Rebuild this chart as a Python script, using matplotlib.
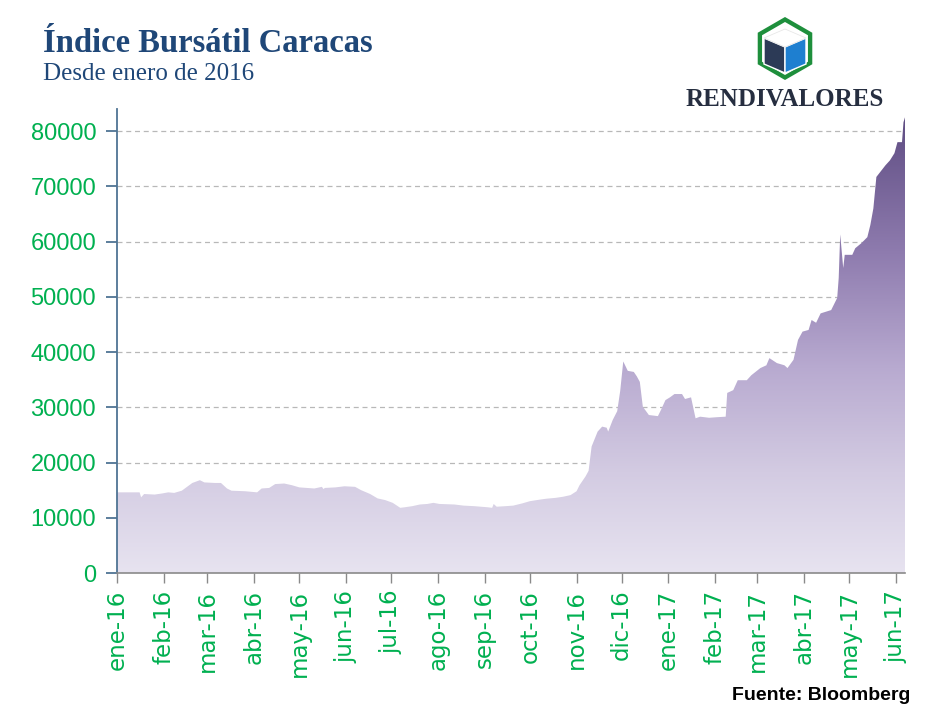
import numpy as np
import pandas as pd
import matplotlib
matplotlib.use("Agg")
import matplotlib.pyplot as plt
import matplotlib.dates as mdates
from matplotlib.colors import LinearSegmentedColormap
from matplotlib.patches import Polygon, RegularPolygon
from matplotlib.ticker import FixedLocator, FixedFormatter

# ---------------- data ----------------
dates = [
    "2016-01-01", "2016-01-16", "2016-01-17", "2016-01-19", "2016-01-26", "2016-01-31",
    "2016-02-04", "2016-02-08", "2016-02-13", "2016-02-17", "2016-02-20", "2016-02-25",
    "2016-02-28", "2016-03-06", "2016-03-10", "2016-03-14", "2016-03-17", "2016-03-26",
    "2016-04-03", "2016-04-06", "2016-04-11", "2016-04-15", "2016-04-21", "2016-04-26",
    "2016-05-01", "2016-05-11", "2016-05-16", "2016-05-17", "2016-05-18", "2016-05-25",
    "2016-05-31", "2016-06-07", "2016-06-11", "2016-06-17", "2016-06-22", "2016-06-27",
    "2016-07-02", "2016-07-07", "2016-07-10", "2016-07-15", "2016-07-20", "2016-07-25",
    "2016-07-29", "2016-08-02", "2016-08-12", "2016-08-18", "2016-08-25", "2016-09-03",
    "2016-09-06", "2016-09-07", "2016-09-09", "2016-09-15", "2016-09-20", "2016-09-26",
    "2016-10-01", "2016-10-08", "2016-10-12", "2016-10-18", "2016-10-23", "2016-10-28",
    "2016-11-01", "2016-11-03", "2016-11-07", "2016-11-09", "2016-11-11", "2016-11-15",
    "2016-11-18", "2016-11-21", "2016-11-22", "2016-11-25", "2016-11-28", "2016-11-30",
    "2016-12-02", "2016-12-05", "2016-12-09", "2016-12-11", "2016-12-13", "2016-12-15",
    "2016-12-19", "2016-12-25", "2016-12-27", "2016-12-30",
    "2017-01-02", "2017-01-05", "2017-01-10", "2017-01-12", "2017-01-16", "2017-01-19",
    "2017-01-22", "2017-01-28", "2017-02-02", "2017-02-08", "2017-02-09", "2017-02-13",
    "2017-02-16", "2017-02-22", "2017-02-25", "2017-03-03", "2017-03-07", "2017-03-09",
    "2017-03-14", "2017-03-19", "2017-03-21", "2017-03-25", "2017-03-28", "2017-03-31",
    "2017-04-04", "2017-04-06", "2017-04-09", "2017-04-12", "2017-04-19", "2017-04-23",
    "2017-04-24", "2017-04-25", "2017-04-27", "2017-04-28", "2017-05-03", "2017-05-05",
    "2017-05-09", "2017-05-13", "2017-05-15", "2017-05-17", "2017-05-19", "2017-05-21",
    "2017-05-25", "2017-05-28", "2017-05-31", "2017-06-02", "2017-06-05", "2017-06-06",
    "2017-06-07",
]
values = [
    14600, 14600, 13700, 14300, 14200, 14400,
    14600, 14500, 14900, 15700, 16300, 16800,
    16400, 16300, 16300, 15300, 14900, 14800,
    14600, 15300, 15400, 16100, 16200, 15900,
    15500, 15300, 15600, 15200, 15400, 15500,
    15700, 15600, 15000, 14300, 13500, 13200,
    12700, 11800, 11900, 12100, 12400, 12500,
    12700, 12500, 12400, 12200, 12100, 11900,
    11800, 12500, 12000, 12100, 12200, 12600,
    13000, 13300, 13450, 13600, 13800, 14100,
    14800, 15900, 17500, 18500, 22900, 25600,
    26500, 26300, 25600, 27700, 29300, 33000,
    38300, 36600, 36400, 35600, 34600, 30100,
    28600, 28400, 29500, 31300,
    31800, 32400, 32400, 31500, 31800, 28000,
    28300, 28100, 28200, 28300, 32600, 33100,
    34900, 34900, 35800, 37100, 37600, 38900,
    38000, 37600, 37100, 38600, 42200, 43700,
    44000, 45800, 45300, 47000, 47600, 49800,
    53400, 61300, 55200, 57600, 57600, 58800,
    59700, 60800, 63000, 66000, 71700, 72400,
    73800, 74700, 76000, 78000, 78000, 81600,
    82500,
]
month_starts = ["2016-01-01", "2016-02-01", "2016-03-01", "2016-04-01", "2016-05-01",
                "2016-06-01", "2016-07-01", "2016-08-01", "2016-09-01", "2016-10-01",
                "2016-11-01", "2016-12-01", "2017-01-01", "2017-02-01", "2017-03-01",
                "2017-04-01", "2017-05-01", "2017-06-01"]
month_labels = ["ene-16", "feb-16", "mar-16", "abr-16", "may-16", "jun-16", "jul-16",
                "ago-16", "sep-16", "oct-16", "nov-16", "dic-16", "ene-17", "feb-17",
                "mar-17", "abr-17", "may-17", "jun-17"]
y_ticks = [0, 10000, 20000, 30000, 40000, 50000, 60000, 70000, 80000]

x = pd.to_datetime(dates)
y = np.array(values, dtype=float)
tick_dates = pd.to_datetime(month_starts)

# ---------------- figure ----------------
fig = plt.figure(figsize=(9.28, 7.13), dpi=100)
ax = fig.add_axes([117 / 928, (713 - 573) / 713, (905 - 117) / 928, (573 - 109) / 713])

YMAX = 84000
xmin, xmax = x[0], x[-1]

# gradient fill clipped to area
poly = ax.fill_between(x, 0, y, color="none", lw=0, zorder=2)
cmap = LinearSegmentedColormap.from_list(
    "grad", [(0.0, "#e7e3f0"), (0.22, "#d3cbe2"), (0.45, "#b8aad0"),
             (0.7, "#8f7caf"), (1.0, "#5f4d83")])
grad = np.linspace(0, 1, 512).reshape(-1, 1)
img = ax.imshow(grad, cmap=cmap, origin="lower", aspect="auto",
                extent=[mdates.date2num(xmin), mdates.date2num(xmax), 0, 82500],
                zorder=2, interpolation="bilinear")
img.set_clip_path(poly.get_paths()[0], transform=ax.transData)
ax.set_xlim(xmin, xmax)
ax.set_ylim(0, YMAX)

# grid
ax.set_axisbelow(True)
ax.yaxis.grid(True, linestyle=(0, (4, 3)), color="#b8b8b8", linewidth=0.9, zorder=0.5)
ax.xaxis.grid(False)

# spines
for s in ["top", "right"]:
    ax.spines[s].set_visible(False)
ax.spines["left"].set_color("#4f7494")
ax.spines["left"].set_linewidth(1.3)
ax.spines["bottom"].set_color("#8a8a8a")
ax.spines["bottom"].set_linewidth(1.2)

green = "#00b050"
ax.set_yticks(y_ticks)
ax.set_yticklabels([str(v) for v in y_ticks])
ax.tick_params(axis="y", direction="out", length=8, width=1.3, color="#4f7494",
               labelcolor=green, labelsize=17, pad=7)
for lab in ax.get_yticklabels():
    lab.set_fontfamily("Liberation Sans")

ax.xaxis.set_major_locator(FixedLocator(mdates.date2num(tick_dates)))
ax.xaxis.set_major_formatter(FixedFormatter(month_labels))
ax.tick_params(axis="x", direction="out", length=7, width=1.0, color="#8a8a8a",
               labelcolor=green, labelsize=16.5, pad=5, labelrotation=90)
for lab in ax.get_xticklabels():
    lab.set_fontfamily("DejaVu Sans")

# ---------------- texts ----------------
fig.text(43 / 928, 1 - 52 / 713, "Índice Bursátil Caracas", fontsize=23.5,
         fontweight="bold", family="Liberation Serif", color="#1f4778",
         ha="left", va="baseline")
fig.text(43 / 928, 1 - 80 / 713, "Desde enero de 2016", fontsize=18,
         family="Liberation Serif", color="#1f4778", ha="left", va="baseline")
fig.text(910 / 928, 1 - 700 / 713, "Fuente: Bloomberg", fontsize=14,
         fontweight="bold", family="Liberation Sans", color="black",
         ha="right", va="baseline")
fig.text(785 / 928, 1 - 106 / 713, "RENDIVALORES", fontsize=18,
         fontweight="bold", family="Liberation Serif", color="#262e40",
         ha="center", va="baseline")

# ---------------- logo (figure pixel coords) ----------------
lax = fig.add_axes([0, 0, 1, 1], zorder=5)
lax.set_xlim(0, 928)
lax.set_ylim(713, 0)
lax.axis("off")
cx, cy = 785, 48.5
lax.add_patch(RegularPolygon((cx, cy), numVertices=6, radius=31.5, orientation=0,
                             facecolor="#1e8f3c", edgecolor="none"))
lax.add_patch(RegularPolygon((cx, cy), numVertices=6, radius=26.5, orientation=0,
                             facecolor="white", edgecolor="none"))
lax.add_patch(Polygon([(764, 38), (785, 47), (785, 73), (764, 64)], closed=True,
                      facecolor="#2c3a56", edgecolor="white", lw=1))
lax.add_patch(Polygon([(785, 47), (806, 38), (806, 64), (785, 73)], closed=True,
                      facecolor="#1e7fd0", edgecolor="white", lw=1))
lax.add_patch(Polygon([(764, 38), (785, 29), (806, 38), (785, 47)], closed=True,
                      facecolor="white", edgecolor="#e8e8e8", lw=0.6))

fig.savefig("out.png", dpi=100)
